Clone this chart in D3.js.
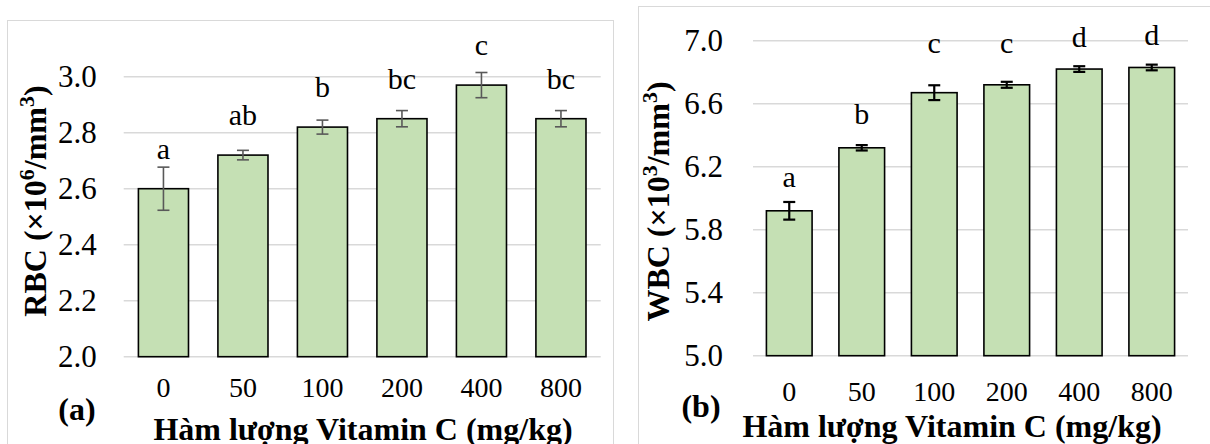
<!DOCTYPE html>
<html>
<head>
<meta charset="utf-8">
<script src="https://cdn.jsdelivr.net/npm/d3@7"></script>
<style>
  html, body { margin: 0; padding: 0; background: #fff; }
  svg { display: block; }
  text { font-family: "Liberation Serif", "Times New Roman", serif; fill: #000; }
</style>
</head>
<body>
<svg id="fig" width="1210" height="444"></svg>
<script>
// Vitamin C dose groups (mg/kg)
const doses = ["0", "50", "100", "200", "400", "800"];

// Red blood cells (×10^6/mm^3): mean, standard error, significance letters
const rbcMean = [2.60, 2.72, 2.82, 2.85, 2.97, 2.85];
const rbcErr = [0.077, 0.017, 0.025, 0.029, 0.045, 0.029];
const rbcLetters = ["a", "ab", "b", "bc", "c", "bc"];
const rbcTicks = [2.0, 2.2, 2.4, 2.6, 2.8, 3.0];

// White blood cells (×10^3/mm^3)
const wbcMean = [5.92, 6.32, 6.67, 6.72, 6.82, 6.83];
const wbcErr = [0.056, 0.017, 0.047, 0.019, 0.018, 0.018];
const wbcLetters = ["a", "b", "c", "c", "d", "d"];
const wbcTicks = [5.0, 5.4, 5.8, 6.2, 6.6, 7.0];

const xTitle = "Hàm lượng Vitamin C (mg/kg)";

const SERIF = "'Liberation Serif', 'Times New Roman', serif";
const svg = d3.select("#fig");

const panels = [
  {
    tag: "(a)", yLabel: ["RBC (×10", "6", "/mm", "3", ")"],
    mean: rbcMean, err: rbcErr, letters: rbcLetters, ticks: rbcTicks,
    frame: { x: 7.5, y: 20.5, r: 613.5 },
    plot: { left: 123.7, right: 600.7, top: 76.7, bottom: 356.7 },
    errColor: "#595959", errWidth: 1.6,
    yPad: 27, xPad: 20.5, letterLift: 30, letterRow: null,
    yTitleX: 46, yTitleY: 201,
    xTitleX: 363, xTitleY: 440,
    tagX: 77, tagY: 420
  },
  {
    tag: "(b)", yLabel: ["WBC (×10", "3", "/mm", "3", ")"],
    mean: wbcMean, err: wbcErr, letters: wbcLetters, ticks: wbcTicks,
    frame: { x: 638.5, y: 6.5, r: 1215 },
    plot: { left: 753, right: 1188, top: 40.7, bottom: 355.7 },
    errColor: "#000", errWidth: 2.2,
    yPad: 30, xPad: 25.5, letterLift: 24, letterRow: 40,
    yTitleX: 669, yTitleY: 201.5,
    xTitleX: 952, xTitleY: 437,
    tagX: 701, tagY: 417
  }
];

panels.forEach(p => {
  const g = svg.append("g");

  // panel frame
  g.append("rect")
    .attr("x", p.frame.x).attr("y", p.frame.y)
    .attr("width", p.frame.r - p.frame.x).attr("height", 500)
    .attr("fill", "none").attr("stroke", "#d9d9d9").attr("stroke-width", 1);

  const x = d3.scaleBand()
    .domain(doses)
    .range([p.plot.left, p.plot.right])
    .paddingInner(0.37).paddingOuter(0.185);

  const y = d3.scaleLinear()
    .domain([p.ticks[0], p.ticks[p.ticks.length - 1]])
    .range([p.plot.bottom, p.plot.top]);

  // horizontal gridlines
  g.append("g").selectAll("line")
    .data(p.ticks)
    .join("line")
    .attr("x1", p.plot.left).attr("x2", p.plot.right)
    .attr("y1", d => y(d)).attr("y2", d => y(d))
    .attr("stroke", "#d9d9d9").attr("stroke-width", 1.5);

  // y axis labels
  const yAxis = g.append("g")
    .attr("transform", `translate(${p.plot.left},0)`)
    .call(d3.axisLeft(y).tickValues(p.ticks).tickFormat(d3.format(".1f"))
      .tickSize(0).tickPadding(p.yPad));
  yAxis.attr("font-family", SERIF).attr("font-size", 31);
  yAxis.select(".domain").remove();
  yAxis.selectAll("text")
    .style("font-family", SERIF).style("font-size", "31px").attr("fill", "#000");

  // x axis labels
  const xAxis = g.append("g")
    .attr("transform", `translate(0,${p.plot.bottom})`)
    .call(d3.axisBottom(x).tickSize(0).tickPadding(p.xPad));
  xAxis.attr("font-family", SERIF).attr("font-size", 28);
  xAxis.select(".domain").remove();
  xAxis.selectAll("text")
    .style("font-family", SERIF).style("font-size", "28px").attr("fill", "#000");

  const rows = doses.map((d, i) => ({ dose: d, v: p.mean[i], e: p.err[i], l: p.letters[i] }));

  // bars
  g.append("g").selectAll("rect")
    .data(rows)
    .join("rect")
    .attr("x", d => x(d.dose))
    .attr("width", x.bandwidth())
    .attr("y", d => y(d.v))
    .attr("height", d => y(p.ticks[0]) - y(d.v))
    .attr("fill", "#c5e0b4")
    .attr("stroke", "#000").attr("stroke-width", 1.6);

  // error bars
  const eb = g.append("g")
    .attr("stroke", p.errColor).attr("stroke-width", p.errWidth)
    .selectAll("g").data(rows).join("g")
    .attr("transform", d => `translate(${x(d.dose) + x.bandwidth() / 2},0)`);
  eb.append("line")
    .attr("y1", d => y(d.v + d.e)).attr("y2", d => y(d.v - d.e));
  eb.append("line")
    .attr("x1", -6).attr("x2", 6)
    .attr("y1", d => y(d.v + d.e)).attr("y2", d => y(d.v + d.e));
  eb.append("line")
    .attr("x1", -6).attr("x2", 6)
    .attr("y1", d => y(d.v - d.e)).attr("y2", d => y(d.v - d.e));

  // significance letters above each bar; in panel (b) letters that would
  // land near the top are lined up on one row just under the top gridline
  const rowY = p.plot.top + 12;
  const letterY = d => {
    const base = y(d.v) - p.letterLift;
    if (p.letterRow === null || base >= p.plot.top + p.letterRow) return base;
    return Math.min(rowY, base + 2);
  };
  g.append("g").selectAll("text")
    .data(rows)
    .join("text")
    .attr("x", d => x(d.dose) + x.bandwidth() / 2)
    .attr("y", letterY)
    .attr("text-anchor", "middle")
    .style("font-family", SERIF)
    .style("font-size", "30px")
    .text(d => d.l);

  // y axis title with superscripts
  const yt = g.append("text")
    .attr("transform", `translate(${p.yTitleX},${p.yTitleY}) rotate(-90)`)
    .attr("text-anchor", "middle")
    .style("font-family", SERIF)
    .style("font-size", "32px").style("font-weight", "bold");
  yt.append("tspan").text(p.yLabel[0]);
  yt.append("tspan").attr("dy", -12).style("font-size", "22px").text(p.yLabel[1]);
  yt.append("tspan").attr("dy", 12).text(p.yLabel[2]);
  yt.append("tspan").attr("dy", -12).style("font-size", "22px").text(p.yLabel[3]);
  yt.append("tspan").attr("dy", 12).text(p.yLabel[4]);

  // x axis title
  g.append("text")
    .attr("x", p.xTitleX).attr("y", p.xTitleY)
    .attr("text-anchor", "middle")
    .style("font-family", SERIF)
    .style("font-size", "32px").style("font-weight", "bold")
    .text(xTitle);

  // panel tag
  g.append("text")
    .attr("x", p.tagX).attr("y", p.tagY)
    .attr("text-anchor", "middle")
    .style("font-family", SERIF)
    .style("font-size", "32px").style("font-weight", "bold")
    .text(p.tag);
});
</script>
</body>
</html>
